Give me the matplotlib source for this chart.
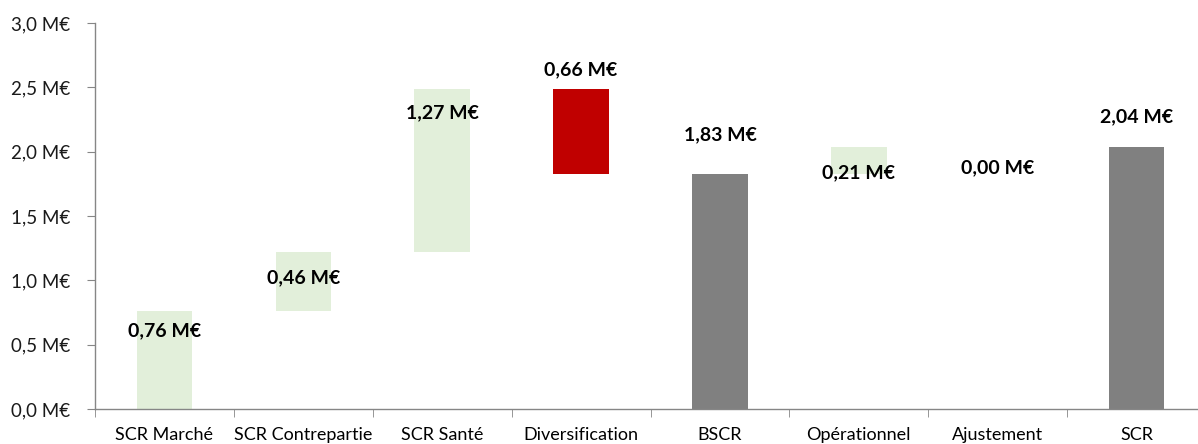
import numpy as np
import matplotlib
matplotlib.use("Agg")
import matplotlib.pyplot as plt
from matplotlib.ticker import FixedLocator, FuncFormatter

# --- données ---
categories = ["SCR Marché", "SCR Contrepartie", "SCR Santé", "Diversification",
              "BSCR", "Opérationnel", "Ajustement", "SCR"]
values = [0.76, 0.46, 1.27, -0.66, 1.83, 0.21, 0.00, 2.04]
kinds = ["up", "up", "up", "down", "total", "up", "up", "total"]
# position verticale des étiquettes (unités de l'axe)
label_y = [0.61, 1.02, 2.30, 2.635, 2.13, 1.835, 1.875, 2.27]

colors = {"up": "#E2EFDA", "down": "#C00000", "total": "#808080"}

plt.rcParams['font.family'] = ['Lato', 'DejaVu Sans']

fig = plt.figure(figsize=(11.98, 4.44), dpi=100)
ax = fig.add_axes([95 / 1198, 1 - 409 / 444, (1206 - 95) / 1198, (409 - 23) / 444])

# --- cascade ---
x = np.arange(len(categories))
running = 0.0
for i, (v, k) in enumerate(zip(values, kinds)):
    if k == "total":
        bottom, height = 0.0, v
        running = v
    else:
        bottom = min(running, running + v)
        height = abs(v)
        running += v
    ax.bar(x[i], height, bottom=bottom, width=0.4, color=colors[k], edgecolor='none', zorder=2)
    txt = f"{abs(v):.2f}".replace(".", ",") + " M€"
    ax.text(x[i], label_y[i], txt, ha='center', va='center', fontsize=14,
            fontweight='bold', color='#000000', zorder=3)

# --- axes ---
ax.set_xlim(-0.5, len(categories) - 0.5)
ax.set_ylim(0, 3.0)
ax.set_yticks(np.arange(0, 3.01, 0.5))
ax.yaxis.set_major_formatter(FuncFormatter(lambda v, p: f"{v:.1f}".replace(".", ",") + " M€"))
ax.set_xticks(x)
ax.set_xticklabels(categories)
ax.xaxis.set_minor_locator(FixedLocator(np.arange(-0.5, len(categories), 1.0)))

ax.tick_params(axis='x', which='major', length=0, pad=13, labelsize=13, colors='#000000')
ax.tick_params(axis='x', which='minor', length=6, direction='out', color='#868686')
ax.tick_params(axis='y', length=6, direction='out', color='#868686', labelsize=13.5,
               labelcolor='#1a1a1a', pad=12)

for s in ['top', 'right']:
    ax.spines[s].set_visible(False)
for s in ['left', 'bottom']:
    ax.spines[s].set_color('#868686')
    ax.spines[s].set_linewidth(1.0)

plt.savefig("out.png", dpi=100)
plt.close()
